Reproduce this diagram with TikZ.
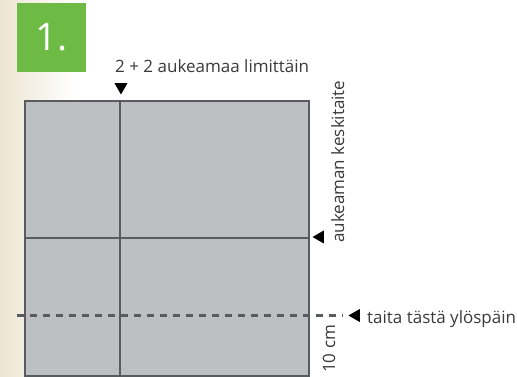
\documentclass[tikz,border=0pt]{standalone}
\usepackage{fontspec}
\setmainfont{Open Sans}
\usetikzlibrary{shapes.geometric}
\definecolor{stepgreen}{HTML}{6DBB45}
\definecolor{sheetfill}{HTML}{BEBFC3}
\definecolor{sheetline}{HTML}{5A5B5E}
\definecolor{txt}{HTML}{3A3A3A}
\definecolor{bgleft}{HTML}{EDE5D2}
\tikzset{
  lbl/.style={text=txt, font=\fontsize{17}{19}\selectfont, inner sep=0pt},
  tri/.style={fill=black, draw=none, regular polygon, regular polygon sides=3, inner sep=0pt, minimum size=15pt},
  fold/.style={draw=sheetline, line width=1.4pt},
  foldthick/.style={draw=sheetline, line width=2.2pt},
}
\begin{document}
\begin{tikzpicture}[x=1pt,y=-1pt]
\useasboundingbox (0,0) rectangle (517,377);
\shade[left color=bgleft, right color=white, draw=none] (0,0) rectangle (75,377);
% step badge
\node[fill=stepgreen, minimum width=69pt, minimum height=69pt, inner sep=0pt, anchor=north west, text=white, font=\fontsize{38}{40}\selectfont] (badge) at (17,3) {1.};
% sheet
\node[draw=sheetline, line width=2.2pt, fill=sheetfill, anchor=north west, minimum width=284pt, minimum height=275pt, inner sep=0pt] (sheet) at (24,100) {};
\coordinate (vtop) at (120,100);
\coordinate (vbot) at (120,375);
\draw[foldthick] (vtop) -- (vbot);
\coordinate (hl) at (24,238);
\coordinate (hr) at (308,238);
\draw[fold] (hl) -- (hr);
\coordinate (dl) at (17,315.5);
\coordinate (dr) at (343,315.5);
\draw[sheetline, line width=2.4pt, dash pattern=on 7pt off 6pt] (dl) -- (dr);
% labels
\node[tri, shape border rotate=180] (ttop) at (121,87) {};
\node[lbl, anchor=base west] (ltop) at (115,73) {2 + 2 aukeamaa limittäin};
\node[tri, shape border rotate=90] (tright) at (320,237) {};
\node[lbl, rotate=90, anchor=base west] (lright) at (344,243) {aukeaman keskitaite};
\node[tri, shape border rotate=90] (tfold) at (356,315.5) {};
\node[lbl, anchor=base west] (lfold) at (367,323) {taita tästä ylöspäin};
\node[lbl, rotate=90, anchor=base west] (lcm) at (335,373) {10 cm};
\end{tikzpicture}
\end{document}
